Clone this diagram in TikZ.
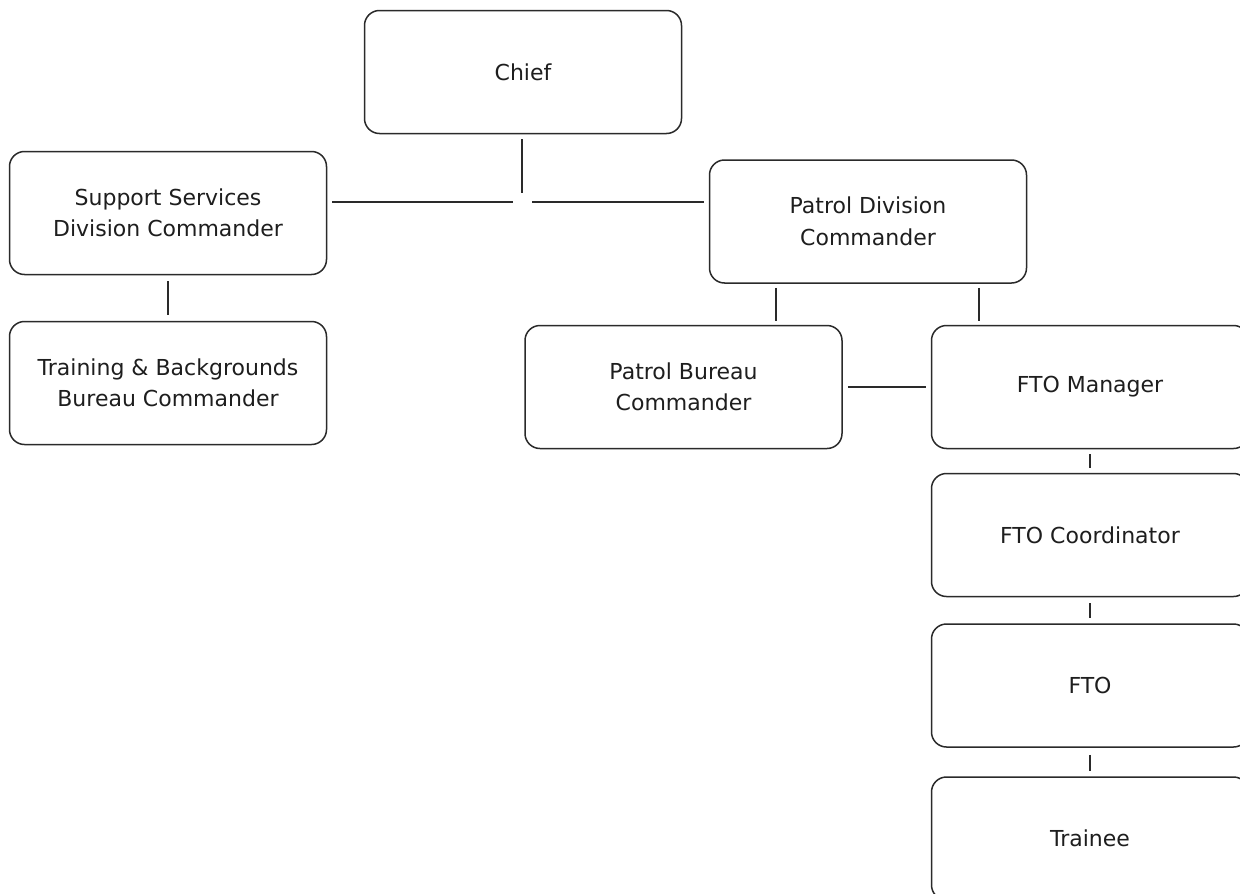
\documentclass[tikz,border=0pt]{standalone}
\usepackage{fontspec}
\setmainfont{DejaVu Sans}
\begin{document}
\begin{tikzpicture}[x=1pt,y=-1pt,
  box/.style={draw=linecol, line width=1.5pt, rounded corners=15pt, minimum width=317pt, minimum height=123pt, align=center, inner sep=0pt, text=textcol, font=\fontsize{22}{31.5}\selectfont},
  conn/.style={draw=linecol, line width=1.6pt},
]
\definecolor{linecol}{HTML}{2A2A2A}
\definecolor{textcol}{HTML}{1E1E1E}
\useasboundingbox (0,0) rectangle (1240,894);
\fill[white] (0,0) rectangle (1240,894);
\clip (0,0) rectangle (1240,894);

\node[box] (chief) at (523,72) {Chief};
\node[box] (ss) at (168,213) {Support Services\\Division Commander};
\node[box] (tb) at (168,383) {Training \& Backgrounds\\Bureau Commander};
\node[box] (pd) at (868,221.5) {Patrol Division\\Commander};
\node[box] (pb) at (683.5,387) {Patrol Bureau\\Commander};
\node[box] (fm) at (1090,387) {FTO Manager};
\node[box] (fc) at (1090,535) {FTO Coordinator};
\node[box] (fto) at (1090,685.5) {FTO};
\node[box] (tr) at (1090,838.5) {Trainee};

\coordinate (j) at (522,202);
\coordinate (xa) at (776,0);
\coordinate (xb) at (979,0);

\draw[conn, shorten <=5pt, shorten >=9pt] (chief.south -| j) -- (j);
\draw[conn, shorten <=5pt, shorten >=9pt] (j -| ss.east) -- (j);
\draw[conn, shorten <=10pt, shorten >=5pt] (j) -- (j -| pd.west);
\draw[conn, shorten <=6pt, shorten >=6pt] (ss.south) -- (tb.north);
\draw[conn, shorten <=4pt, shorten >=4pt] (pd.south -| xa) -- (pb.north -| xa);
\draw[conn, shorten <=4pt, shorten >=4pt] (pd.south -| xb) -- (fm.north -| xb);
\draw[conn, shorten <=5pt, shorten >=5pt] (pb.east) -- (fm.west);
\draw[conn, shorten <=5pt, shorten >=5pt] (fm.south) -- (fc.north);
\draw[conn, shorten <=6pt, shorten >=5pt] (fc.south) -- (fto.north);
\draw[conn, shorten <=7pt, shorten >=5pt] (fto.south) -- (tr.north);
\end{tikzpicture}
\end{document}
